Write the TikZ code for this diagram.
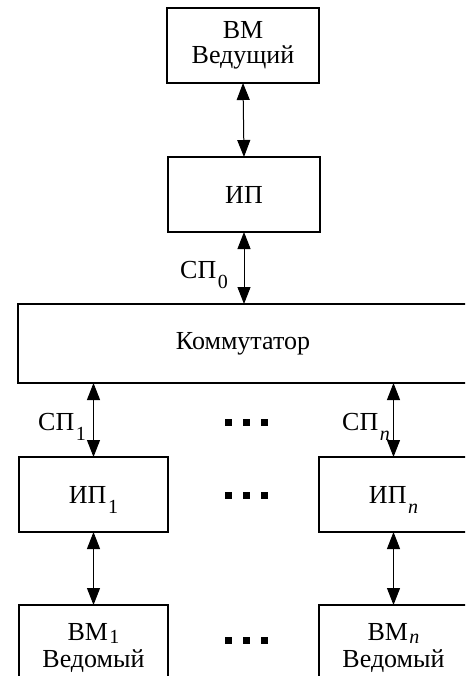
\documentclass[tikz,border=0pt]{standalone}
\usepackage{fontspec}
\setmainfont{Liberation Serif}
\usetikzlibrary{arrows.meta}

% lowered subscript: #1 = drop below the baseline, #2 = index
\newcommand{\lowsub}[2]{\kern1.5pt\raisebox{-#1}[\height][0pt]{\fontsize{20}{20}\selectfont #2}}

\tikzset{
  unit/.style={draw, line width=1.5pt, inner sep=0pt, outer sep=0pt,
    minimum width=152pt, minimum height=75pt, align=center,
    font=\fontsize{26}{25}\selectfont},
  link/.style={line width=1pt, {Triangle[length=17pt,width=13pt]}-{Triangle[length=17pt,width=13pt]}},
  portlabel/.style={anchor=base east, inner sep=0pt, font=\fontsize{26}{26}\selectfont},
  dot/.style={fill=black, inner sep=0pt, minimum size=7pt}
}

\begin{document}
\begin{tikzpicture}[x=1pt, y=-1pt]
  \useasboundingbox (0,0) rectangle (465,676);
  \clip (0,0) rectangle (465,676);

  % master computer and its interface
  \node[unit] (vm0) at (243,45.5) {ВМ\\Ведущий};
  \node[unit] (ip0) at (244,194.5) {ИП};

  % switch
  \node[unit, minimum width=450pt, minimum height=79pt] (sw) at (243,343.5) {Коммутатор};

  % slave interfaces
  \node[unit, minimum width=149pt] (ip1) at (93.5,494.5) {ИП\lowsub{10pt}{1}};
  \node[unit, minimum width=149pt] (ipn) at (393.5,494.5) {ИП\lowsub{10pt}{\textit{n}}};

  % slave computers
  \node[unit, minimum width=149pt, minimum height=85pt] (vm1) at (93.5,647.5)
    {ВМ\lowsub{3pt}{1}\\[2pt]Ведомый};
  \node[unit, minimum width=149pt, minimum height=85pt] (vmn) at (393.5,647.5)
    {ВМ\lowsub{3pt}{\textit{n}}\\[2pt]Ведомый};

  % links
  \draw[link] (vm0.south) -- (ip0.north);
  \draw[link] (ip0.south) -- (ip0.south |- sw.north);
  \draw[link] (sw.south -| ip1.north) -- (ip1.north);
  \draw[link] (sw.south -| ipn.north) -- (ipn.north);
  \draw[link] (ip1.south) -- (vm1.north);
  \draw[link] (ipn.south) -- (vmn.north);

  % link labels
  \node[portlabel] (l0) at (228,278) {СП\lowsub{10pt}{0}};
  \node[portlabel] (l1) at (86,430) {СП\lowsub{10pt}{1}};
  \node[portlabel] (ln) at (390,430) {СП\lowsub{10pt}{\textit{n}}};

  % ellipses between the columns
  \foreach \r/\y in {a/422, b/495, c/640} {
    \node[dot] (d1\r) at (228.5,\y) {};
    \node[dot] (d2\r) at (246.5,\y) {};
    \node[dot] (d3\r) at (264,\y) {};
  }
\end{tikzpicture}
\end{document}
